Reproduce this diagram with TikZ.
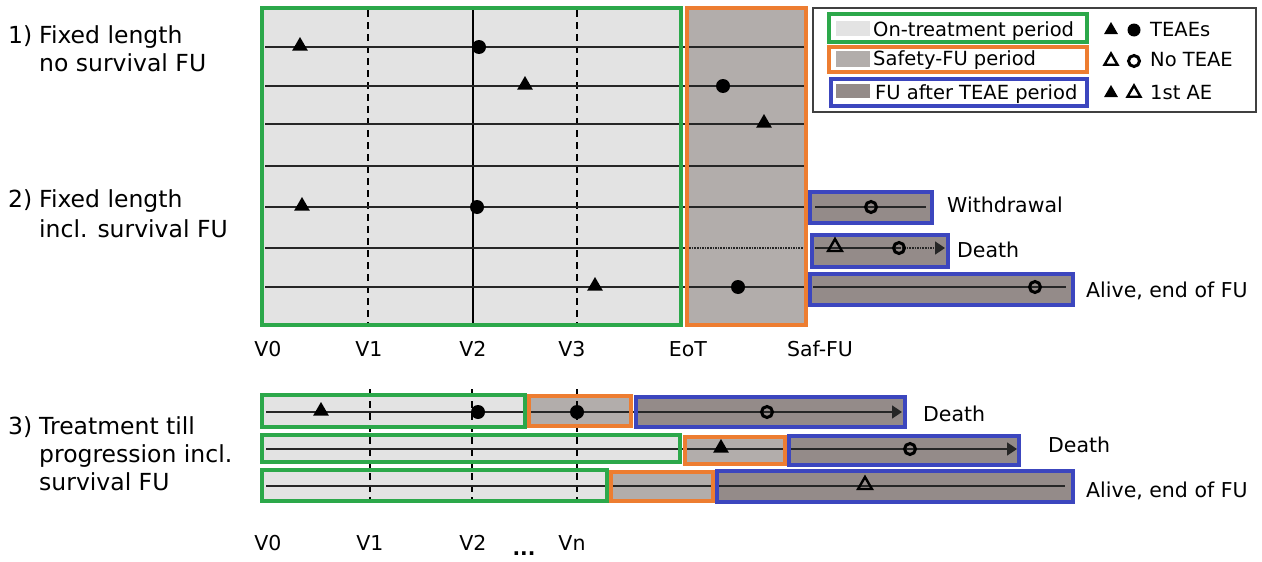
\documentclass[tikz,border=0pt]{standalone}
\usepackage{fontspec}
\setmainfont{DejaVu Sans}
\usetikzlibrary{shapes.geometric, arrows.meta}

\definecolor{ongray}{RGB}{227,227,227}
\definecolor{safgray}{RGB}{178,173,171}
\definecolor{fugray}{RGB}{148,139,137}
\definecolor{ongreen}{RGB}{44,168,74}
\definecolor{saforange}{RGB}{237,125,49}
\definecolor{fublue}{RGB}{60,70,190}

% periods: fill / edge / x1 / y1 / x2 / y2
\def\periods{ongray/ongreen/262/8/681/325, safgray/saforange/687/8/806/325,
  fugray/fublue/810/192/932/223, fugray/fublue/812/235/948/267, fugray/fublue/810/274/1073/305,
  ongray/ongreen/262/395/525/427, safgray/saforange/529/396/631/426, fugray/fublue/636/397/905/427,
  ongray/ongreen/262/435/680/462, safgray/saforange/685/437/785/464, fugray/fublue/789/436/1019/465,
  ongray/ongreen/262/470/607/501, safgray/saforange/611/472/713/501, fugray/fublue/717/471/1073/502}

\begin{document}
\begin{tikzpicture}[x=1pt, y=-1pt,
  lab/.style={font=\fontsize{23.5}{28}\selectfont, anchor=base west, inner sep=0pt},
  txt/.style={font=\fontsize{20.5}{24}\selectfont, anchor=base west, inner sep=0pt},
  keytxt/.style={font=\fontsize{19.5}{24}\selectfont, anchor=base west, inner sep=0pt},
  tick/.style={font=\fontsize{20.5}{24}\selectfont, anchor=base, inner sep=0pt},
  row/.style={line width=1.6pt, black!85},
  visit/.style={black, line width=1.2pt, dash pattern=on 7pt off 5pt},
  tri/.style={regular polygon, regular polygon sides=3, fill=black, inner sep=0pt, minimum size=18pt},
  otri/.style={regular polygon, regular polygon sides=3, draw=black, line width=2.4pt, inner sep=0pt, minimum size=16pt},
  dot/.style={circle, fill=black, inner sep=0pt, minimum size=14pt},
  odot/.style={circle, draw=black, line width=3pt, inner sep=0pt, minimum size=11pt},
  key/.style={line width=3.5pt, fill=white},
  tip/.style={-{Triangle[length=10pt,width=13pt]}}]
\useasboundingbox (0,0) rectangle (1262,562);

% period fills
\foreach \fc/\ec/\xa/\ya/\xb/\yb in \periods
  \path[fill=\fc] (\xa,\ya) rectangle (\xb,\yb);

% visits
\draw[visit] (368,10) -- (368,324);
\draw[black, line width=1.2pt] (473,10) -- (473,324);
\draw[visit] (577,10) -- (577,324);
\foreach \x in {370,472,577}
  \draw[visit] (\x,389) -- (\x,503);

% patients
\foreach \y in {47,86,124,207,287}
  \draw[row] (265,\y) -- (804,\y);
\draw[row, line width=2.6pt] (265,166) -- (804,166);
\draw[row] (265,248) -- (684,248);
\draw[row, densely dotted, line width=2.2pt] (684,248) -- (807,248);
\draw[row] (815,207) -- (926,207);
\draw[row] (815,248) -- (899,248);
\draw[row, densely dotted, tip] (899,248) -- (945,248);
\draw[row] (813,287) -- (1066,287);
\draw[row, tip] (266,412) -- (902,412);
\draw[row, tip] (266,449) -- (1017,449);
\draw[row] (266,486) -- (1065,486);

% period edges
\foreach \fc/\ec/\xa/\ya/\xb/\yb in \periods
  \draw[draw=\ec, line width=4.5pt] (\xa,\ya) rectangle (\xb,\yb);

% events
\node[tri] (e11) at (300,46) {};
\node[dot] (e12) at (479,47) {};
\node[tri] (e21) at (525,85) {};
\node[dot] (e22) at (723,86) {};
\node[tri] (e31) at (764,123) {};
\node[tri] (e41) at (302,206) {};
\node[dot] (e42) at (477,207) {};
\node[odot] (e43) at (871,207) {};
\node[otri] (e51) at (835,247) {};
\node[odot] (e52) at (899,248) {};
\node[tri] (e61) at (595,286) {};
\node[dot] (e62) at (738,287) {};
\node[odot] (e63) at (1035,287) {};
\node[tri] (e71) at (321,411) {};
\node[dot] (e72) at (478,412) {};
\node[dot] (e73) at (577,412) {};
\node[odot] (e74) at (767,412) {};
\node[tri] (e81) at (721,448) {};
\node[odot] (e82) at (910,449) {};
\node[otri] (e91) at (865,485) {};

% designs
\node[lab] (d1) at (8,43) {1)};
\node[lab] (d1a) at (39,43) {Fixed length};
\node[lab] (d1b) at (39,71) {no survival FU};
\node[lab] (d2) at (8,207) {2)};
\node[lab] (d2a) at (39,207) {Fixed length};
\node[lab] (d2b) at (39,237) {incl. survival FU};
\node[lab] (d3) at (8,434) {3)};
\node[lab] (d3a) at (39,434) {Treatment till};
\node[lab] (d3b) at (39,462) {progression incl.};
\node[lab] (d3c) at (39,490) {survival FU};

% outcomes
\node[txt] (o1) at (947,212) {Withdrawal};
\node[txt] (o2) at (957,257) {Death};
\node[txt] (o3) at (1086,297) {Alive, end of FU};
\node[txt] (o4) at (923,421) {Death};
\node[txt] (o5) at (1048,452) {Death};
\node[txt] (o6) at (1086,497) {Alive, end of FU};

% time axis
\node[tick] (v0) at (268,356) {V0};
\node[tick] (v1) at (369,356) {V1};
\node[tick] (v2) at (473,356) {V2};
\node[tick] (v3) at (572,356) {V3};
\node[tick] (eot) at (688,356) {EoT};
\node[tick] (saf) at (820,356) {Saf-FU};
\node[tick] (w0) at (268,550) {V0};
\node[tick] (w1) at (370,550) {V1};
\node[tick] (w2) at (473,550) {V2};
\node[tick, font=\bfseries\fontsize{20}{24}\selectfont] (dots) at (524,555) {...};
\node[tick] (wn) at (572,550) {Vn};

% legend
\draw[black!75, line width=1.5pt, fill=white] (813,8) rectangle (1256,112);
\draw[key, draw=ongreen] (829,14) rectangle (1087,42);
\draw[key, draw=saforange] (829,47) rectangle (1087,72);
\draw[key, draw=fublue] (831,79) rectangle (1087,106);
\fill[ongray] (836,21) rectangle (870,36);
\fill[safgray] (836,51) rectangle (870,67);
\fill[fugray] (836,84) rectangle (870,98);
\node[keytxt] (k1) at (873,36) {On-treatment period};
\node[keytxt] (k2) at (873,65) {Safety-FU period};
\node[keytxt] (k3) at (875,99) {FU after TEAE period};
\node[tri, minimum size=16pt] (m11) at (1111,30) {};
\node[dot, minimum size=13pt] (m12) at (1134,30) {};
\node[otri, minimum size=15pt] (m21) at (1111,61) {};
\node[odot, minimum size=11pt] (m22) at (1134,61) {};
\node[tri, minimum size=16pt] (m31) at (1111,93) {};
\node[otri, minimum size=15pt] (m32) at (1134,93) {};
\node[keytxt] (k4) at (1150,36) {TEAEs};
\node[keytxt] (k5) at (1150,66) {No TEAE};
\node[keytxt] (k6) at (1150,99) {1st AE};
\end{tikzpicture}
\end{document}
